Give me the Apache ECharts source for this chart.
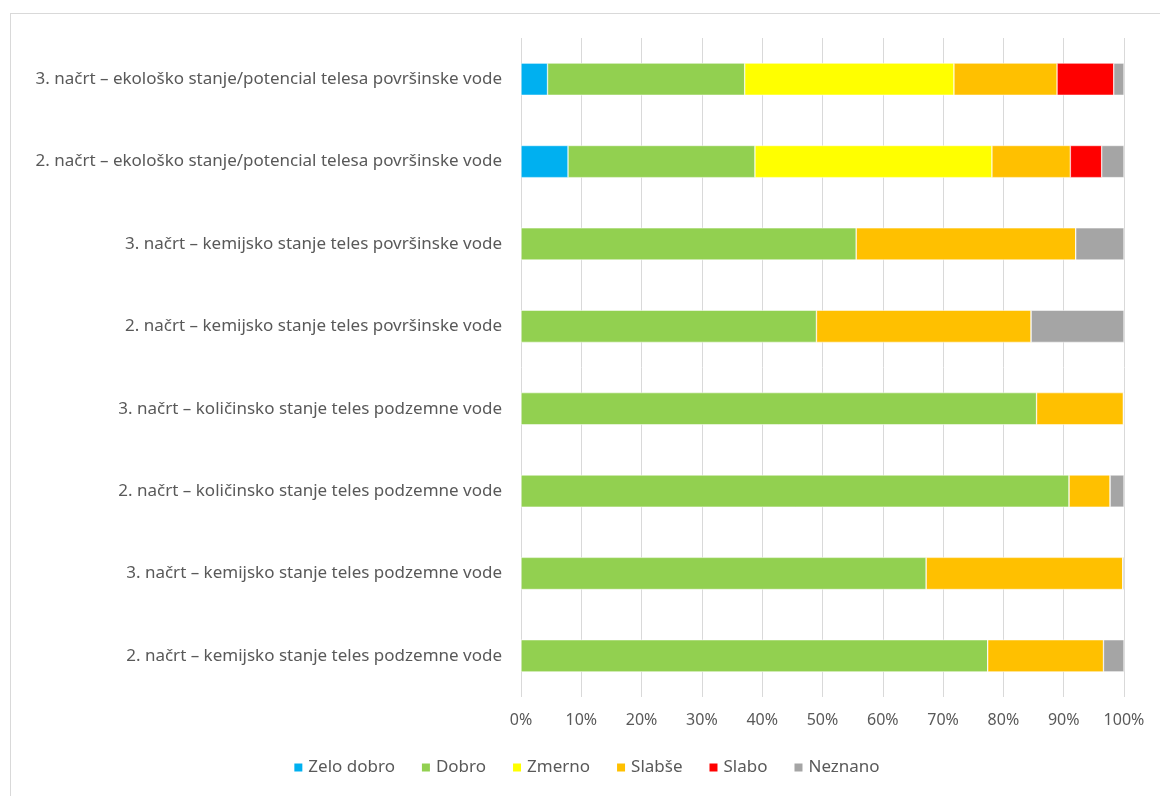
<!DOCTYPE html>
<html lang="sl">
<head>
    <meta charset="UTF-8">
    <title>Stanje voda</title>
    <script src="https://cdn.jsdelivr.net/npm/echarts@6/dist/echarts.min.js"></script>
    <style>
        body {
            margin: 0;
            background: #fff;
            width: 1160px;
            height: 796px;
            overflow: hidden;
            position: relative;
        }

        .frame {
            position: absolute;
            left: 10px;
            top: 13px;
            width: 1150px;
            height: 783px;
            border-left: 1px solid #d9d9d9;
            border-top: 1px solid #d9d9d9;
        }

        #chart {
            width: 1150px;
            height: 783px;
        }
    </style>
</head>
<body>
<div class="frame">
    <div id="chart"></div>
</div>
<script>
    // bottom-to-top order for the category axis
    const categories = [
        '2. načrt – kemijsko stanje teles podzemne vode',
        '3. načrt – kemijsko stanje teles podzemne vode',
        '2. načrt – količinsko stanje teles podzemne vode',
        '3. načrt – količinsko stanje teles podzemne vode',
        '2. načrt – kemijsko stanje teles površinske vode',
        '3. načrt – kemijsko stanje teles površinske vode',
        '2. načrt – ekološko stanje/potencial telesa površinske vode',
        '3. načrt – ekološko stanje/potencial telesa površinske vode'
    ];

    const zeloDobro = [0, 0, 0, 0, 0, 0, 7.8, 4.4];
    const dobro = [77.4, 67.2, 90.9, 85.5, 49.0, 55.6, 31.0, 32.7];
    const zmerno = [0, 0, 0, 0, 0, 0, 39.3, 34.7];
    const slabse = [19.2, 32.6, 6.8, 14.4, 35.6, 36.4, 13.0, 17.1];
    const slabo = [0, 0, 0, 0, 0, 0, 5.2, 9.4];
    const neznano = [3.4, 0.2, 2.3, 0.1, 15.4, 8.0, 3.7, 1.7];

    const seriesNames = ['Zelo dobro', 'Dobro', 'Zmerno', 'Slabše', 'Slabo', 'Neznano'];
    const seriesData = [zeloDobro, dobro, zmerno, slabse, slabo, neznano];
    const colors = ['#00B0F0', '#92D050', '#FFFF00', '#FFC000', '#FF0000', '#A5A5A5'];

    const font = '"Noto Sans", Roboto, sans-serif';
    const chart = echarts.init(document.getElementById('chart'));

    chart.setOption({
        animation: false,
        color: colors,
        textStyle: {fontFamily: font},
        grid: {
            left: 510,
            right: 37,
            top: 24,
            bottom: 100
        },
        legend: {
            bottom: 16,
            left: 'center',
            itemWidth: 10,
            itemHeight: 10,
            itemGap: 25,
            icon: 'rect',
            textStyle: {color: '#595959', fontSize: 17, fontFamily: font},
            data: seriesNames
        },
        xAxis: {
            type: 'value',
            min: 0,
            max: 100,
            interval: 10,
            axisLine: {show: false},
            axisTick: {show: false},
            splitLine: {lineStyle: {color: '#d9d9d9', width: 1}},
            axisLabel: {
                formatter: '{value}%',
                color: '#595959',
                fontSize: 16,
                margin: 15
            }
        },
        yAxis: {
            type: 'category',
            data: categories,
            axisLine: {show: false},
            axisTick: {show: false},
            axisLabel: {
                color: '#595959',
                fontSize: 17,
                margin: 19
            }
        },
        series: seriesNames.map((name, i) => ({
            name: name,
            type: 'bar',
            stack: 'total',
            barWidth: '39%',
            itemStyle: {borderColor: '#fff', borderWidth: 0.5},
            data: seriesData[i]
        }))
    });
</script>
</body>
</html>
